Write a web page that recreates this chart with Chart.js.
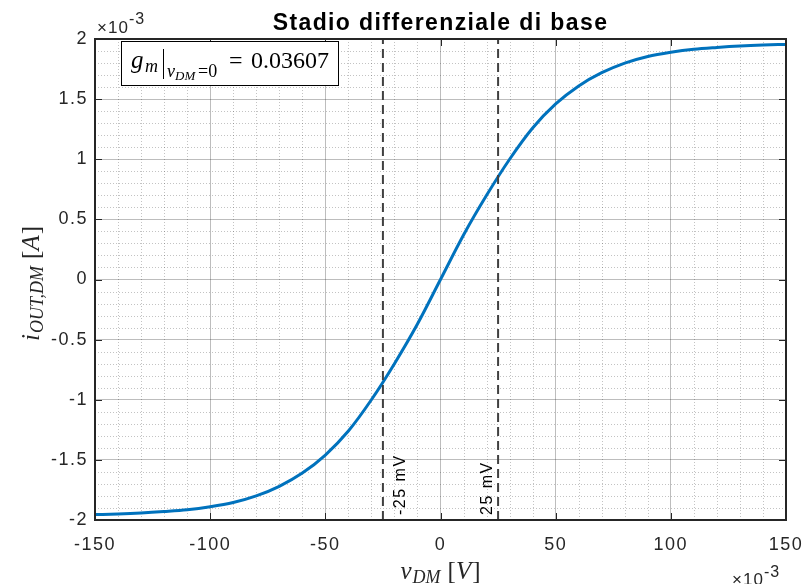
<!DOCTYPE html>
<html>
<head>
<meta charset="utf-8">
<script src="https://cdn.jsdelivr.net/npm/chart.js@4/dist/chart.umd.min.js"></script>
<style>
  html, body { margin: 0; padding: 0; background: #fff; }
  #wrap { width: 805px; height: 584px; }
</style>
</head>
<body>
<div id="wrap"><canvas id="chart"></canvas></div>
<script>
// v_DM in mV (axis shows x10^-3 V), i_OUT,DM in mA (axis shows x10^-3 A)
const vDM = [-150, -140, -130, -120, -110, -100, -90, -80, -70, -60, -50, -40, -30, -20, -10,
    0, 10, 20, 30, 40, 50, 60, 70, 80, 90, 100, 110, 120, 130, 140, 150];
const iOut = [-1.955, -1.95, -1.942, -1.93, -1.915, -1.89, -1.855, -1.80, -1.72, -1.61, -1.46, -1.26, -1.00, -0.70, -0.37,
    0, 0.37, 0.70, 1.00, 1.26, 1.46, 1.61, 1.72, 1.80, 1.855, 1.89, 1.915, 1.93, 1.942, 1.95, 1.955];
const markerV = [-25, 25];
const markerLabels = ["-25 mV", "25 mV"];
const gmText = "0.03607";
const titleText = "Stadio differenziale di base";

const AX = "#262626";
const SERIF = "'Liberation Serif', 'DejaVu Serif', serif";
const SANS = "'Liberation Sans', Arial, sans-serif";

const curve = vDM.map((v, i) => ({ x: v, y: iOut[i] }));

const markerSets = markerV.map((v) => ({
    data: [{ x: v, y: -2 }, { x: v, y: 2 }],
    borderColor: "#404040",
    borderWidth: 2,
    borderDash: [9, 5],
    pointRadius: 0,
    order: 0
}));

// draw a run of [text, font, dx, dy] pieces starting at (x, y)
function drawPieces(ctx, pieces, x, y) {
    pieces.forEach(([t, f, dx, dy]) => {
        ctx.font = f;
        x += dx || 0;
        ctx.fillText(t, x, y + (dy || 0));
        x += ctx.measureText(t).width;
    });
}
function piecesWidth(ctx, pieces) {
    let w = 0;
    pieces.forEach(([t, f, dx]) => { ctx.font = f; w += (dx || 0) + ctx.measureText(t).width; });
    return w;
}

const decor = {
    id: "decor",
    beforeDraw(chart) {
        chart.ctx.letterSpacing = "1.5px";
    },
    beforeDatasetsDraw(chart) {
        const { ctx, chartArea: a, scales: { x, y } } = chart;
        ctx.save();
        ctx.strokeStyle = "rgba(38,38,38,0.28)";
        ctx.lineWidth = 1;
        ctx.setLineDash([1, 2]);
        for (let v = -150; v <= 150; v += 10) {
            if (v % 50 === 0) continue;
            const px = Math.round(x.getPixelForValue(v)) + 0.5;
            ctx.beginPath(); ctx.moveTo(px, a.top); ctx.lineTo(px, a.bottom); ctx.stroke();
        }
        for (let k = -20; k <= 20; k++) {
            if (k % 5 === 0) continue;
            const py = Math.round(y.getPixelForValue(k / 10)) + 0.5;
            ctx.beginPath(); ctx.moveTo(a.left, py); ctx.lineTo(a.right, py); ctx.stroke();
        }
        ctx.restore();
    },
    afterDatasetsDraw(chart) {
        const { ctx, chartArea: a, scales: { x, y } } = chart;
        ctx.save();
        ctx.letterSpacing = "0px";

        // inner tick marks
        ctx.strokeStyle = AX;
        ctx.lineWidth = 1;
        for (let v = -150; v <= 150; v += 50) {
            const px = Math.round(x.getPixelForValue(v)) + 0.5;
            ctx.beginPath();
            ctx.moveTo(px, a.bottom); ctx.lineTo(px, a.bottom - 7);
            ctx.moveTo(px, a.top); ctx.lineTo(px, a.top + 7);
            ctx.stroke();
        }
        for (let k = -4; k <= 4; k++) {
            const py = Math.round(y.getPixelForValue(k / 2)) + 0.5;
            ctx.beginPath();
            ctx.moveTo(a.left, py); ctx.lineTo(a.left + 7, py);
            ctx.moveTo(a.right, py); ctx.lineTo(a.right - 7, py);
            ctx.stroke();
        }

        // box
        ctx.lineWidth = 2;
        ctx.strokeRect(a.left, a.top, a.right - a.left, a.bottom - a.top);

        // marker labels, rotated
        ctx.fillStyle = "#000";
        ctx.font = "16px " + SANS;
        ctx.letterSpacing = "1.5px";
        markerV.forEach((v, i) => {
            const px = x.getPixelForValue(v);
            ctx.save();
            if (v < 0) {
                ctx.translate(px + 10, a.bottom - 5);
                ctx.rotate(-Math.PI / 2);
                ctx.textBaseline = "top";
            } else {
                ctx.translate(px - 6, a.bottom - 5);
                ctx.rotate(-Math.PI / 2);
                ctx.textBaseline = "alphabetic";
            }
            ctx.textAlign = "left";
            ctx.fillText(markerLabels[i], 0, 0);
            ctx.restore();
        });
        ctx.letterSpacing = "0px";

        // gm annotation box
        ctx.fillStyle = "#fff";
        ctx.fillRect(121, 41, 217, 44);
        ctx.strokeStyle = "#000";
        ctx.lineWidth = 1;
        ctx.strokeRect(121.5, 41.5, 217, 44);
        ctx.fillStyle = "#000";
        ctx.textAlign = "left";
        ctx.textBaseline = "alphabetic";
        ctx.font = "italic 25px " + SERIF;
        ctx.fillText("g", 131, 68);
        ctx.font = "italic 18px " + SERIF;
        ctx.fillText("m", 145, 72);
        ctx.beginPath(); ctx.moveTo(163.5, 49); ctx.lineTo(163.5, 79); ctx.stroke();
        ctx.font = "italic 18px " + SERIF;
        ctx.fillText("v", 167, 77);
        ctx.font = "italic 13px " + SERIF;
        ctx.fillText("DM", 175, 80);
        ctx.font = "18px " + SERIF;
        ctx.fillText("=0", 198, 77);
        ctx.font = "24px " + SERIF;
        ctx.fillText("=", 229, 68);
        ctx.fillText(gmText, 251, 68);

        // title
        ctx.font = "bold 23px " + SANS;
        ctx.letterSpacing = "1.4px";
        ctx.textAlign = "center";
        ctx.fillText(titleText, (a.left + a.right) / 2, 30);

        // exponent labels
        ctx.fillStyle = AX;
        ctx.textAlign = "left";
        ctx.letterSpacing = "1px";
        ctx.font = "17px " + SANS;
        ctx.fillText("\u00d710", 97, 33);
        ctx.font = "16px " + SANS;
        ctx.fillText("-3", 129, 24);
        ctx.font = "17px " + SANS;
        ctx.fillText("\u00d710", 732, 585);
        ctx.font = "16px " + SANS;
        ctx.fillText("-3", 764, 577);
        ctx.letterSpacing = "0px";

        // x axis label  v_DM [V]
        const xl = [
            ["v", "italic 25px " + SERIF, 0, 0],
            ["DM", "italic 18px " + SERIF, 1, 4],
            ["[", "25px " + SERIF, 7, 0],
            ["V", "italic 25px " + SERIF, 0, 0],
            ["]", "25px " + SERIF, 1, 0]
        ];
        drawPieces(ctx, xl, (a.left + a.right) / 2 - piecesWidth(ctx, xl) / 2, 579);

        // y axis label  i_OUT,DM [A]
        const yl = [
            ["i", "italic 25px " + SERIF, 0, 0],
            ["OUT,DM", "italic 18px " + SERIF, 1, 4],
            ["[", "25px " + SERIF, 7, 0],
            ["A", "italic 25px " + SERIF, 0, 0],
            ["]", "25px " + SERIF, 1, 0]
        ];
        ctx.save();
        ctx.translate(39, (a.top + a.bottom) / 2 + 4);
        ctx.rotate(-Math.PI / 2);
        drawPieces(ctx, yl, -piecesWidth(ctx, yl) / 2, 0);
        ctx.restore();

        ctx.restore();
    },
    afterDraw(chart) {
        chart.ctx.letterSpacing = "0px";
    }
};

new Chart(document.getElementById("chart"), {
    type: "line",
    data: {
        datasets: [
            ...markerSets,
            {
                data: curve,
                borderColor: "#0072BD",
                borderWidth: 3,
                pointRadius: 0,
                cubicInterpolationMode: "monotone",
                order: 1
            }
        ]
    },
    options: {
        responsive: true,
        maintainAspectRatio: false,
        animation: false,
        events: [],
        layout: { padding: { left: 0, right: 19, top: 39, bottom: 0 } },
        plugins: { legend: { display: false }, tooltip: { enabled: false }, title: { display: false } },
        scales: {
            x: {
                type: "linear",
                min: -150,
                max: 150,
                afterFit: (s) => { s.height = 64; s.paddingLeft = 0; s.paddingRight = 0; },
                ticks: { stepSize: 50, color: AX, font: { size: 18, family: SANS }, padding: 14, maxRotation: 0,
                    callback: (v) => String(v) },
                grid: { color: "rgba(38,38,38,0.3)", lineWidth: 1, drawTicks: false },
                border: { display: false }
            },
            y: {
                min: -2,
                max: 2,
                afterFit: (s) => { s.width = 95; s.paddingTop = 0; s.paddingBottom = 0; },
                ticks: { stepSize: 0.5, color: AX, font: { size: 18, family: SANS }, padding: 7,
                    callback: (v) => String(v) },
                grid: { color: "rgba(38,38,38,0.3)", lineWidth: 1, drawTicks: false },
                border: { display: false }
            }
        }
    },
    plugins: [decor]
});
</script>
</body>
</html>
